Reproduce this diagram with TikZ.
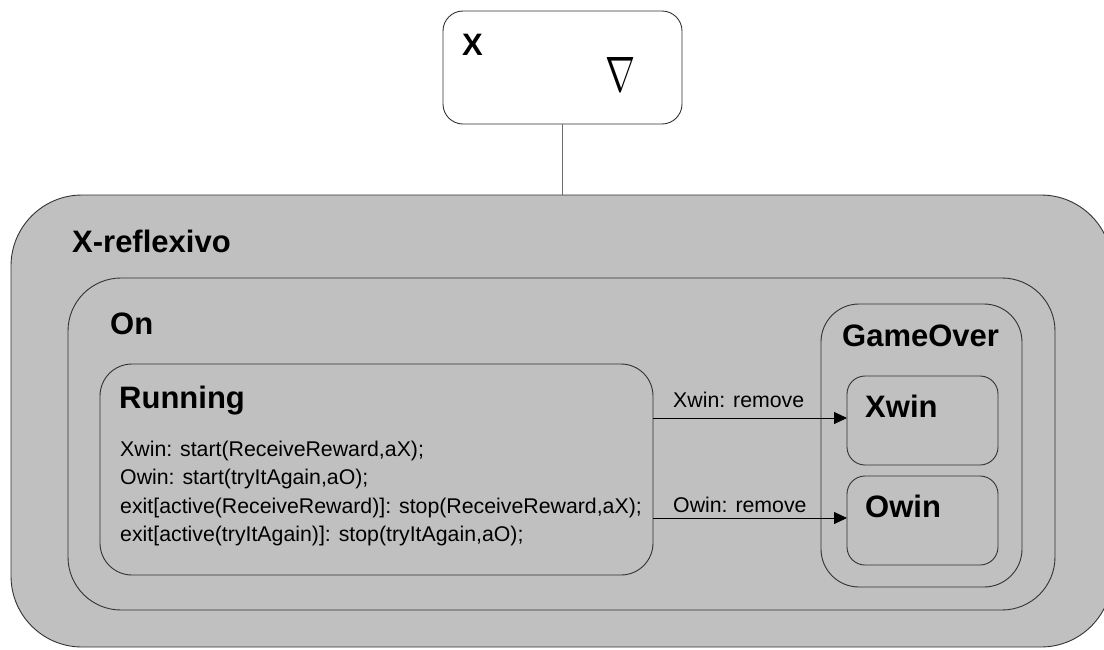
\documentclass[tikz,border=0pt]{standalone}
\usepackage{fontspec}
\setmainfont{Liberation Sans}
\usepackage{graphicx}
\usetikzlibrary{arrows.meta}
\definecolor{boxgray}{RGB}{192,192,192}
\definecolor{edgegray}{RGB}{50,50,50}
\definecolor{linkgray}{RGB}{110,110,110}
\begin{document}
\begin{tikzpicture}[x=1pt,y=-1pt,
  state/.style={draw=edgegray, line width=0.9pt, fill=boxgray, rectangle, inner sep=0pt, outer sep=0pt},
  title/.style={anchor=base west, inner sep=0pt, font=\fontsize{31}{31}\selectfont\bfseries},
  body/.style={anchor=base west, inner sep=0pt, font=\fontsize{21.3}{21.3}\selectfont},
  trans/.style={draw=black, line width=0.8pt, -{Triangle[length=13pt,width=12pt]}}]
\useasboundingbox (0,0) rectangle (1104,649);
\begin{scope}
\clip (0,0) rectangle (1104,649);
\node[state, rounded corners=71pt, minimum width=1101pt, minimum height=452pt] (outer) at (561.5,421) {};
\end{scope}
\node[state, fill=white, rounded corners=20pt, minimum width=239pt, minimum height=113pt] (xbox) at (562.5,67.5) {};
\draw[linkgray, line width=0.9pt] (xbox.south) -- (xbox.south |- outer.north);
\node[state, rounded corners=53pt, minimum width=987pt, minimum height=332pt] (on) at (561.5,444) {};
\node[state, rounded corners=32pt, minimum width=553pt, minimum height=211pt] (running) at (376.5,469.5) {};
\node[state, rounded corners=38pt, minimum width=201pt, minimum height=283pt] (gameover) at (921.5,445.5) {};
\node[state, rounded corners=18pt, minimum width=151pt, minimum height=89pt] (xwin) at (922.5,420.5) {};
\node[state, rounded corners=18pt, minimum width=151pt, minimum height=89pt] (owin) at (922.5,520.5) {};
% titles
\node[title] (tx) at (462,55) {X};
\node[inner sep=0pt] (nabla) at (620,74) {\resizebox{30pt}{34pt}{$\nabla$}};
\node[title] (trefl) at (72,252) {X-reflexivo};
\node[title] (ton) at (110,334) {On};
\node[title] (trun) at (119,408) {Running};
\node[title] (tgo) at (842,346) {GameOver};
\node[title] (txw) at (865,417) {Xwin};
\node[title] (tow) at (865,517) {Owin};
% running body
\node[body] (l1) at (120,456) {Xwin: start(ReceiveReward,aX);};
\node[body] (l2) at (120,484.5) {Owin: start(tryItAgain,aO);};
\node[body] (l3) at (120,513) {exit[active(ReceiveReward)]: stop(ReceiveReward,aX);};
\node[body] (l4) at (120,541) {exit[active(tryItAgain)]: stop(tryItAgain,aO);};
% transitions
\coordinate (s1) at (running.east |- 0,418);
\coordinate (s2) at (running.east |- 0,518);
\draw[trans] (s1) -- (s1 -| xwin.west);
\draw[trans] (s2) -- (s2 -| owin.west);
\node[body] (lx) at (673,407) {Xwin: remove};
\node[body] (lo) at (673,512) {Owin: remove};
\end{tikzpicture}
\end{document}
